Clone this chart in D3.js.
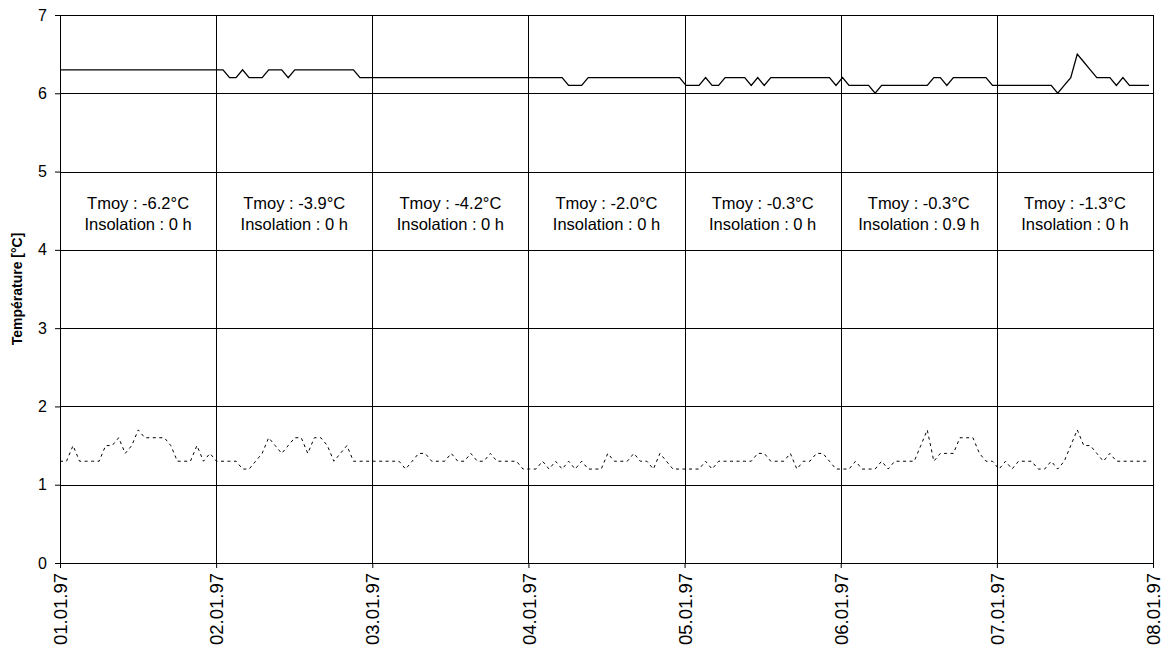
<!DOCTYPE html>
<html>
<head>
<meta charset="utf-8">
<script src="https://cdn.jsdelivr.net/npm/d3@7"></script>
<style>
  html, body { margin: 0; padding: 0; background: #fff; }
  svg { display: block; font-family: "Liberation Sans", Arial, sans-serif; }
</style>
</head>
<body>
<svg id="chart" width="1175" height="655"></svg>
<script>
// Day labels on the time axis (one tick per midnight)
const dayLabels = ["01.01.97", "02.01.97", "03.01.97", "04.01.97", "05.01.97", "06.01.97", "07.01.97", "08.01.97"];

// Daily summary shown in each day column
const dailyMeanTemp = [-6.2, -3.9, -4.2, -2.0, -0.3, -0.3, -1.3];
const dailySunshine = [0, 0, 0, 0, 0, 0.9, 0];

// Y axis ticks
const yTicks = [0, 1, 2, 3, 4, 5, 6, 7];

// Hourly readings, upper series (solid line), 24 values per day
const upperDay1 = [6.3,6.3,6.3,6.3,6.3,6.3,6.3,6.3,6.3,6.3,6.3,6.3,6.3,6.3,6.3,6.3,6.3,6.3,6.3,6.3,6.3,6.3,6.3,6.3];
const upperDay2 = [6.3,6.3,6.2,6.2,6.3,6.2,6.2,6.2,6.3,6.3,6.3,6.2,6.3,6.3,6.3,6.3,6.3,6.3,6.3,6.3,6.3,6.3,6.2,6.2];
const upperDay3 = [6.2,6.2,6.2,6.2,6.2,6.2,6.2,6.2,6.2,6.2,6.2,6.2,6.2,6.2,6.2,6.2,6.2,6.2,6.2,6.2,6.2,6.2,6.2,6.2];
const upperDay4 = [6.2,6.2,6.2,6.2,6.2,6.2,6.1,6.1,6.1,6.2,6.2,6.2,6.2,6.2,6.2,6.2,6.2,6.2,6.2,6.2,6.2,6.2,6.2,6.2];
const upperDay5 = [6.1,6.1,6.1,6.2,6.1,6.1,6.2,6.2,6.2,6.2,6.1,6.2,6.1,6.2,6.2,6.2,6.2,6.2,6.2,6.2,6.2,6.2,6.2,6.1];
const upperDay6 = [6.2,6.1,6.1,6.1,6.1,6.0,6.1,6.1,6.1,6.1,6.1,6.1,6.1,6.1,6.2,6.2,6.1,6.2,6.2,6.2,6.2,6.2,6.2,6.1];
const upperDay7 = [6.1,6.1,6.1,6.1,6.1,6.1,6.1,6.1,6.1,6.0,6.1,6.2,6.5,6.4,6.3,6.2,6.2,6.2,6.1,6.2,6.1,6.1,6.1,6.1];

// Hourly readings, lower series (dashed line), 24 values per day
const lowerDay1 = [1.3,1.3,1.5,1.3,1.3,1.3,1.3,1.5,1.5,1.6,1.4,1.5,1.7,1.6,1.6,1.6,1.6,1.5,1.3,1.3,1.3,1.5,1.3,1.4];
const lowerDay2 = [1.3,1.3,1.3,1.3,1.2,1.2,1.3,1.4,1.6,1.5,1.4,1.5,1.6,1.6,1.4,1.6,1.6,1.5,1.3,1.4,1.5,1.3,1.3,1.3];
const lowerDay3 = [1.3,1.3,1.3,1.3,1.3,1.2,1.3,1.4,1.4,1.3,1.3,1.3,1.4,1.3,1.3,1.4,1.3,1.3,1.4,1.3,1.3,1.3,1.3,1.2];
const lowerDay4 = [1.2,1.2,1.3,1.2,1.3,1.2,1.3,1.2,1.3,1.2,1.2,1.2,1.4,1.3,1.3,1.3,1.4,1.3,1.3,1.2,1.4,1.3,1.2,1.2];
const lowerDay5 = [1.2,1.2,1.2,1.3,1.2,1.3,1.3,1.3,1.3,1.3,1.3,1.4,1.4,1.3,1.3,1.3,1.4,1.2,1.3,1.3,1.4,1.4,1.3,1.2];
const lowerDay6 = [1.2,1.2,1.3,1.2,1.2,1.2,1.3,1.2,1.3,1.3,1.3,1.3,1.5,1.7,1.3,1.4,1.4,1.4,1.6,1.6,1.6,1.4,1.3,1.3];
const lowerDay7 = [1.2,1.3,1.2,1.3,1.3,1.3,1.2,1.2,1.3,1.2,1.3,1.5,1.7,1.5,1.5,1.4,1.3,1.4,1.3,1.3,1.3,1.3,1.3,1.3];

const upperSeries = [].concat(upperDay1, upperDay2, upperDay3, upperDay4, upperDay5, upperDay6, upperDay7);
const lowerSeries = [].concat(lowerDay1, lowerDay2, lowerDay3, lowerDay4, lowerDay5, lowerDay6, lowerDay7);

const margin = { top: 15, right: 22, bottom: 92, left: 60 };
const svg = d3.select("#chart");
const W = +svg.attr("width"), H = +svg.attr("height");
const iw = W - margin.left - margin.right;
const ih = H - margin.top - margin.bottom;

const g = svg.append("g").attr("transform", `translate(${margin.left},${margin.top})`);

// Day columns: one band boundary per midnight
const xDay = d3.scaleLinear().domain([0, dayLabels.length - 1]).range([0, iw]);
// Hourly samples; the last reading sits just short of the closing day line
const xHour = d3.scaleLinear().domain([0, upperSeries.length - 1]).range([0, iw - 4]);
const y = d3.scaleLinear().domain([0, 7]).range([ih, 0]);

// Horizontal grid
g.append("g")
  .selectAll("line")
  .data(yTicks)
  .join("line")
  .attr("x1", 0).attr("x2", iw)
  .attr("y1", d => Math.round(y(d)) + 0.5).attr("y2", d => Math.round(y(d)) + 0.5)
  .attr("stroke", "#000").attr("stroke-width", 1);

// Vertical day separators
g.append("g")
  .selectAll("line")
  .data(dayLabels.map((d, i) => i))
  .join("line")
  .attr("x1", d => Math.round(xDay(d)) + 0.5).attr("x2", d => Math.round(xDay(d)) + 0.5)
  .attr("y1", 0).attr("y2", ih)
  .attr("stroke", "#000").attr("stroke-width", 1);

// Y axis
const yAxis = g.append("g")
  .call(d3.axisLeft(y).tickValues(yTicks).tickSize(5).tickPadding(8).tickFormat(d3.format("d")));
yAxis.select(".domain").attr("stroke", "#000");
yAxis.selectAll("line").attr("stroke", "#000");
yAxis.selectAll("text").attr("font-size", 16).attr("fill", "#000")
  .attr("font-family", "'Liberation Sans', Arial, sans-serif");

// X axis with vertical date labels
const xAxis = g.append("g")
  .attr("transform", `translate(0,${ih})`)
  .call(d3.axisBottom(xDay).tickValues(dayLabels.map((d, i) => i)).tickSize(5).tickFormat(i => dayLabels[i]));
xAxis.select(".domain").attr("stroke", "#000");
xAxis.selectAll("line").attr("stroke", "#000");
xAxis.selectAll("text")
  .attr("font-size", 18.5).attr("fill", "#000")
  .attr("font-family", "'Liberation Sans', Arial, sans-serif")
  .attr("text-anchor", "end")
  .attr("transform", "rotate(-90)")
  .attr("x", -10).attr("y", 0).attr("dy", "0.36em");

// Y axis title
svg.append("text")
  .attr("transform", `translate(22,${margin.top + ih / 2}) rotate(-90)`)
  .attr("text-anchor", "middle")
  .attr("font-size", 14).attr("font-weight", "bold").attr("fill", "#000")
  .text("Température [°C]");

// Lines
const line = d3.line().x((d, i) => xHour(i)).y(d => y(d));

g.append("path")
  .datum(upperSeries)
  .attr("d", line)
  .attr("fill", "none").attr("stroke", "#000").attr("stroke-width", 1.3)
  .attr("stroke-linejoin", "miter");

g.append("path")
  .datum(lowerSeries)
  .attr("d", line)
  .attr("fill", "none").attr("stroke", "#000").attr("stroke-width", 1)
  .attr("stroke-dasharray", "3,3.5");

// Daily annotations
const notes = g.append("g")
  .attr("font-size", 16.5).attr("fill", "#000").attr("text-anchor", "middle");
dailyMeanTemp.forEach((t, i) => {
  const cx = (xDay(i) + xDay(i + 1)) / 2;
  notes.append("text").attr("x", cx).attr("y", 194).text(`Tmoy : ${t.toFixed(1)}°C`);
  notes.append("text").attr("x", cx).attr("y", 215).text(`Insolation : ${dailySunshine[i]} h`);
});
</script>
</body>
</html>
